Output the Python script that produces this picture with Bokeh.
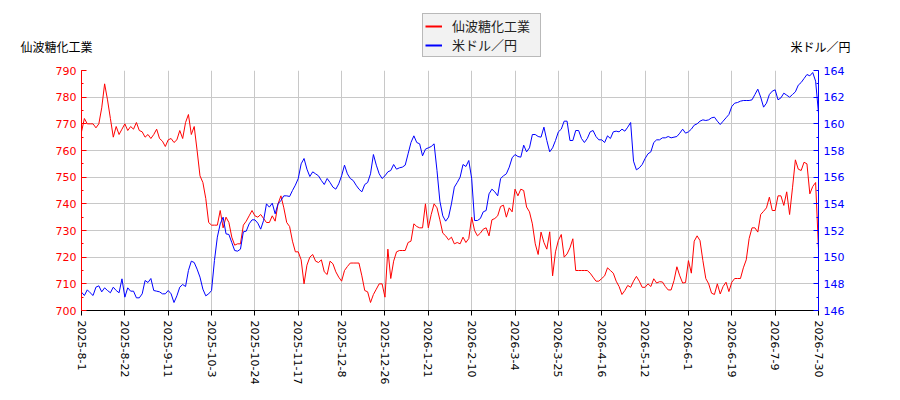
from bokeh.plotting import figure
from bokeh.models import Range1d, LinearAxis, FixedTicker, Legend, LegendItem
from bokeh.core.properties import value
from bokeh.embed import file_html
from bokeh.resources import INLINE

# tick labels of the x axis (one every 15 trading days)
tick_labels = ["2025-8-1", "2025-8-22", "2025-9-11", "2025-10-3", "2025-10-24",
               "2025-11-17", "2025-12-8", "2025-12-26", "2026-1-21", "2026-2-10",
               "2026-3-4", "2026-3-25", "2026-4-16", "2026-5-12", "2026-6-1",
               "2026-6-19", "2026-7-9", "2026-7-30"]
tick_step = 15

series_names = ["仙波糖化工業", "米ドル／円"]

# 仙波糖化工業 stock price (yen)
stock = [
    767, 772, 770, 770, 770, 768.5, 770, 776, 785, 779,
    772, 765, 769, 766, 768, 770, 767.5, 769, 768, 770.5,
    767.5, 767, 765, 766, 764.5, 766, 768, 764.5, 763.5, 761.5,
    764, 764.5, 763, 764, 767.5, 764.5, 770.5, 773.5, 766, 769,
    760, 750.5, 748, 742, 733, 732, 732, 732, 737.5, 731,
    735, 733, 727.5, 724.5, 725, 725, 732, 733.5, 735.5, 737.5,
    735.5, 735, 736, 734.5, 733, 733, 735.5, 733.5, 740, 743,
    738.5, 733, 731.5, 726, 722, 722, 719, 710, 717, 720,
    721, 718.5, 718, 719, 714.5, 713.5, 718.5, 717.5, 714.5, 712.5,
    711, 715, 716.5, 717.8, 717.8, 717.8, 717.8, 713, 707.5, 707,
    703, 706, 708, 710, 710, 705, 723, 712, 718.5, 722,
    722.5, 722.5, 722.5, 725.5, 726, 732.5, 731.5, 731, 731, 740,
    731, 736, 740, 738.5, 734, 729, 728, 726.5, 727.5, 725,
    725.5, 725, 727.5, 725.5, 727, 735, 730, 728, 729, 730.5,
    731, 728, 734, 734.5, 735.5, 739, 739.5, 735, 738.5, 737,
    745.5, 743, 745.5, 745, 738.8, 737, 732.5, 725, 721, 729.4,
    725.5, 723, 729.5, 713, 722, 726.3, 728.5, 720, 721.2, 723.5,
    726.9, 715, 715, 715, 715, 715, 714, 712.5, 711, 711,
    712, 713, 716, 715, 714, 711, 709, 706, 707.5, 709.4,
    708.7, 711, 712.8, 711, 708.7, 708.7, 710, 709, 711.9, 710.3,
    710.8, 710.7, 709, 707.7, 707.7, 711.2, 716.4, 713, 710.3, 710.5,
    718.7, 714, 726, 728, 726.2, 718.7, 712, 710, 706.5, 706,
    710, 706.2, 709, 710.6, 707.1, 710.6, 712, 712, 712, 716,
    719, 727, 731, 731, 729.4, 736, 737.2, 738.5, 742.5, 737.5,
    737.5, 743, 743, 739.4, 744.5, 736, 746, 756.5, 753, 752.5,
    755.6, 755, 743.75, 746.5, 748, 723,
]

# 米ドル／円 exchange rate
usdjpy = [
    147.375, 147.125, 147.55, 147.33, 147.125, 147.75, 147.85, 147.4, 147.7, 147.5,
    147.33, 147.75, 147.5, 147.33, 148.375, 147.0, 147.7, 147.45, 147.45, 146.95,
    146.95, 147.25, 148.25, 148.1, 148.4, 147.5, 147.45, 147.4, 147.25, 147.25,
    147.5, 147.25, 146.6, 147.1, 147.75, 147.95, 147.8, 149.0, 149.7, 149.6,
    149.1, 148.5, 147.6, 147.1, 147.25, 147.5, 149.75, 151.5, 152.5, 153.0,
    151.75, 151.7, 151.1, 150.5, 150.45, 150.6, 151.9, 151.95, 152.5, 152.8,
    152.8, 152.55, 152.1, 152.75, 154.0, 153.75, 154.05, 153.25, 154.0, 154.25,
    154.6, 154.6, 154.55, 155.0, 155.4, 155.9, 157.0, 157.4, 156.6, 156.05,
    156.4, 156.25, 156.1, 155.75, 155.45, 155.9, 155.6, 155.25, 155.1, 155.5,
    156.1, 156.9, 156.25, 155.9, 155.75, 155.4, 155.1, 154.9, 155.45, 155.6,
    156.25, 157.7, 156.9, 156.25, 155.9, 156.1, 156.4, 156.5, 156.95, 156.6,
    156.7, 156.75, 156.9, 157.75, 158.6, 159.1, 158.6, 158.5, 157.6, 158.1,
    158.2, 158.3, 158.5, 156.5, 154.2, 153.1, 152.7, 153.0, 154.0, 155.25,
    155.6, 156.0, 156.95, 156.8, 157.25, 155.9, 152.75, 152.75, 152.9, 153.4,
    153.5, 154.75, 155.1, 154.9, 154.6, 155.9, 156.1, 156.25, 156.75, 157.45,
    157.7, 157.55, 157.5, 158.4, 157.9, 158.2, 159.2, 159.2, 159.05, 159.0,
    159.75, 158.75, 157.9, 158.2, 158.75, 159.4, 159.6, 160.2, 160.2, 158.75,
    158.75, 159.5, 159.5, 158.9, 158.6, 158.9, 159.4, 159.5, 159.05, 158.8,
    158.8, 158.6, 159.1, 158.9, 159.4, 159.45, 159.4, 159.6, 159.45, 159.75,
    160.1, 157.2, 156.55, 156.7, 156.95, 157.4, 157.75, 157.9, 158.6, 158.8,
    158.8, 158.95, 158.95, 159.05, 158.95, 159.0, 159.05, 159.3, 159.6, 159.3,
    159.4, 159.6, 159.9, 160.0, 160.2, 160.3, 160.25, 160.3, 160.45, 160.5,
    160.2, 159.95, 160.2, 160.45, 160.7, 161.3, 161.55, 161.6, 161.7, 161.75,
    161.75, 161.75, 161.8, 162.2, 162.6, 162.0, 161.25, 161.55, 162.2, 162.45,
    162.55, 161.8, 161.95, 162.3, 162.15, 162.0, 162.2, 162.4, 162.9, 163.1,
    163.4, 163.7, 163.6, 163.85, 163.2, 160.8,
]

RED = "#ff0000"
BLUE = "#0000ff"
W = 888
HEAD_H = 60

days = list(range(len(stock)))
xticks = [i * tick_step for i in range(len(tick_labels))]

# ---- header strip: axis titles and legend (above the plot frame) ----
head = figure(frame_width=W, frame_height=HEAD_H, min_border=0,
              x_range=Range1d(0, W), y_range=Range1d(HEAD_H, 0),
              x_axis_type=None, y_axis_type=None,
              output_backend="svg", toolbar_location=None)
head.outline_line_color = None
head.grid.visible = False
head.text(x=[20], y=[46], text=[series_names[0]], text_baseline="middle",
          text_font=value("Noto Sans CJK JP"), text_font_size="12px", text_color="#000000")
head.text(x=[850], y=[46], text=[series_names[1]], text_baseline="middle", text_align="right",
          text_font=value("Noto Sans CJK JP"), text_font_size="12px", text_color="#000000")
# key swatches only (kept outside the visible range)
k1 = head.line([-20, -10], [-20, -20], color=RED, line_width=2)
k2 = head.line([-20, -10], [-20, -20], color=BLUE, line_width=2)
legend = Legend(items=[LegendItem(label=series_names[0], renderers=[k1]),
                       LegendItem(label=series_names[1], renderers=[k2])],
                location=(422, HEAD_H - 57), orientation="vertical",
                background_fill_color="#f2f2f2", background_fill_alpha=1,
                border_line_color="#808080", border_line_width=1,
                label_text_font="Noto Sans CJK JP", label_text_font_size="13px",
                label_text_color="#222222",
                glyph_width=17, glyph_height=16, label_standoff=10,
                padding=2, spacing=0, margin=0)
legend.label_width = 86
head.add_layout(legend)

# ---- main chart ----
p = figure(frame_width=737, frame_height=240,
           min_border_left=81, min_border_right=W - 81 - 737, min_border_top=10, min_border_bottom=80,
           x_range=Range1d(0, len(stock) - 1), y_range=Range1d(700, 790),
           output_backend="svg", toolbar_location=None)
p.extra_y_ranges = {"usd": Range1d(146, 164)}
p.outline_line_color = None

p.line(days, stock, color=RED, line_width=1)
p.line(days, usdjpy, color=BLUE, line_width=1, y_range_name="usd")

# left axis: stock price
ya = p.yaxis[0]
ya.ticker = FixedTicker(ticks=list(range(700, 791, 10)), minor_ticks=list(range(700, 791, 5)))
ya.axis_line_color = RED
ya.major_tick_line_color = RED
ya.minor_tick_line_color = RED
ya.major_label_text_color = RED
ya.major_tick_in = 5
ya.major_tick_out = 0
ya.minor_tick_in = 2
ya.minor_tick_out = 0
ya.major_label_text_font = "DejaVu Sans"
ya.major_label_text_font_size = "11px"

# right axis: exchange rate
ra = LinearAxis(y_range_name="usd",
                ticker=FixedTicker(ticks=list(range(146, 165, 2)), minor_ticks=list(range(146, 165))))
ra.axis_line_color = BLUE
ra.major_tick_line_color = BLUE
ra.minor_tick_line_color = BLUE
ra.major_label_text_color = BLUE
ra.major_tick_in = 5
ra.major_tick_out = 0
ra.minor_tick_in = 2
ra.minor_tick_out = 0
ra.major_label_text_font = "DejaVu Sans"
ra.major_label_text_font_size = "11px"
p.add_layout(ra, "right")

xa = p.xaxis[0]
xa.ticker = FixedTicker(ticks=xticks, minor_ticks=[])
xa.major_label_overrides = {t: lab for t, lab in zip(xticks, tick_labels)}
xa.major_label_orientation = "vertical"
xa.major_label_text_font = "DejaVu Sans"
xa.major_label_text_font_size = "11px"
xa.major_label_text_color = "#000000"
xa.axis_line_color = "#000000"
xa.major_tick_line_color = "#000000"
xa.major_tick_in = 0
xa.major_tick_out = 5

p.xgrid.grid_line_color = "#c8c8c8"
p.ygrid.grid_line_color = "#c8c8c8"

# two separate roots so the header is not aligned to the chart's borders
open("out.html", "w").write(file_html([head, p], INLINE))
